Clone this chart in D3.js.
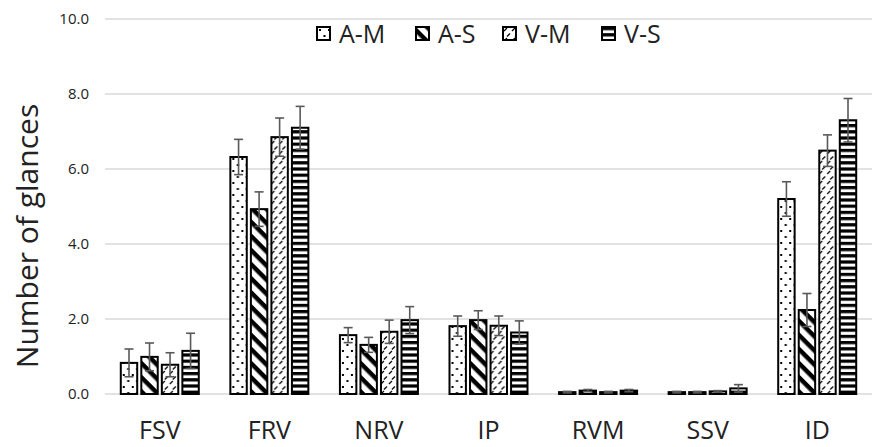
<!DOCTYPE html>
<html><head><meta charset="utf-8">
<script src="https://cdn.jsdelivr.net/npm/d3@7"></script>
<style>body{margin:0;background:#fff;} svg{display:block;font-family:"Open Sans",sans-serif;}</style>
</head><body>
<svg id="c" width="877" height="447"></svg>
<script>
const categories = ["FSV","FRV","NRV","IP","RVM","SSV","ID"];
const seriesNames = ["A-M","A-S","V-M","V-S"];
const valuesAM = [0.83,6.32,1.57,1.81,0.05,0.05,5.20];
const valuesAS = [0.99,4.93,1.31,1.97,0.09,0.05,2.24];
const valuesVM = [0.78,6.85,1.66,1.82,0.05,0.07,6.49];
const valuesVS = [1.15,7.10,1.97,1.64,0.09,0.15,7.30];
const errAM = [0.37,0.47,0.20,0.27,0.02,0.02,0.46];
const errAS = [0.37,0.46,0.20,0.25,0.03,0.02,0.44];
const errVM = [0.32,0.51,0.31,0.26,0.02,0.02,0.42];
const errVS = [0.47,0.57,0.36,0.31,0.03,0.10,0.58];
const yTicks = [0,2,4,6,8,10];

const values = [valuesAM,valuesAS,valuesVM,valuesVS];
const errs = [errAM,errAS,errVM,errVS];

const svg = d3.select("#c");
const defs = svg.append("defs");
// patterns
const p0 = defs.append("pattern").attr("id","pat0").attr("patternUnits","userSpaceOnUse").attr("width",9).attr("height",12);
p0.append("rect").attr("width",9).attr("height",12).attr("fill","#fff");
p0.append("rect").attr("x",2).attr("y",2).attr("width",2).attr("height",2).attr("fill","#000");
p0.append("rect").attr("x",6.5).attr("y",8).attr("width",2).attr("height",2).attr("fill","#000");
const p1 = defs.append("pattern").attr("id","pat1").attr("patternUnits","userSpaceOnUse").attr("width",10).attr("height",10).attr("patternTransform","rotate(45)");
p1.append("rect").attr("width",10).attr("height",10).attr("fill","#fff");
p1.append("rect").attr("x",0).attr("y",0).attr("width",10).attr("height",4.5).attr("fill","#000");
const p2 = defs.append("pattern").attr("id","pat2").attr("patternUnits","userSpaceOnUse").attr("width",8).attr("height",10);
p2.append("rect").attr("width",8).attr("height",10).attr("fill","#fff");
p2.append("line").attr("x1",1).attr("y1",4).attr("x2",4).attr("y2",1).attr("stroke","#000").attr("stroke-width",1.2);
p2.append("line").attr("x1",4).attr("y1",9.5).attr("x2",7).attr("y2",6.5).attr("stroke","#000").attr("stroke-width",1.2);
const p3 = defs.append("pattern").attr("id","pat3").attr("patternUnits","userSpaceOnUse").attr("width",6).attr("height",6.2);
p3.append("rect").attr("width",6).attr("height",6.2).attr("fill","#fff");
p3.append("rect").attr("x",0).attr("y",0).attr("width",6).attr("height",3.2).attr("fill","#000");

const mLeft = 105, mRight = 872, mTop = 19, mBottom = 394;
const x = d3.scaleBand().domain(categories).range([mLeft,mRight]).paddingInner(0).paddingOuter(0);
const xs = d3.scaleBand().domain(seriesNames).range([0,78]).paddingInner(0.2);
const y = d3.scaleLinear().domain([0,10]).range([mBottom,mTop]);

// gridlines
svg.append("g").selectAll("line").data(yTicks).join("line")
  .attr("x1",mLeft).attr("x2",mRight).attr("y1",d=>y(d)).attr("y2",d=>y(d))
  .attr("stroke","#d9d9d9").attr("stroke-width",1.5);

// y axis labels
const yAxis = d3.axisLeft(y).tickValues(yTicks).tickFormat(d3.format(".1f")).tickSize(0).tickPadding(0);
const ya = svg.append("g").attr("transform",`translate(${mLeft-16},0)`).call(yAxis);
ya.select(".domain").remove();
ya.selectAll("text").attr("font-size",15).attr("fill","#222").attr("font-family","Open Sans, sans-serif");

// x axis labels
const xAxis = d3.axisBottom(x).tickSize(0).tickPadding(0);
const xa = svg.append("g").attr("transform",`translate(0,${mBottom+45})`).call(xAxis);
xa.select(".domain").remove();
xa.selectAll("text").attr("font-size",25).attr("fill","#222").attr("font-family","Open Sans, sans-serif").attr("dy","0");

// bars
const groups = svg.append("g").selectAll("g").data(categories).join("g")
  .attr("transform",d=>`translate(${x(d)+x.bandwidth()/2-39},0)`);
seriesNames.forEach((s,si)=>{
  groups.append("rect")
    .attr("x",xs(s)).attr("width",xs.bandwidth())
    .attr("y",(d,i)=>y(values[si][i])).attr("height",(d,i)=>mBottom-y(values[si][i]))
    .attr("fill",`url(#pat${si})`).attr("stroke","#000").attr("stroke-width",2);
});
seriesNames.forEach((s,si)=>{
  const cx = xs(s)+xs.bandwidth()/2;
  const eg = groups.append("g").attr("stroke","#595959").attr("stroke-width",1.6);
  eg.append("line").attr("x1",cx).attr("x2",cx)
    .attr("y1",(d,i)=>y(values[si][i]+errs[si][i])).attr("y2",(d,i)=>y(values[si][i]-errs[si][i]));
  eg.append("line").attr("x1",cx-4.5).attr("x2",cx+4.5)
    .attr("y1",(d,i)=>y(values[si][i]+errs[si][i])).attr("y2",(d,i)=>y(values[si][i]+errs[si][i]));
  eg.append("line").attr("x1",cx-4.5).attr("x2",cx+4.5)
    .attr("y1",(d,i)=>y(values[si][i]-errs[si][i])).attr("y2",(d,i)=>y(values[si][i]-errs[si][i]));
});

// y title
svg.append("text").attr("transform","translate(38,236) rotate(-90)")
  .attr("text-anchor","middle").attr("font-size",30).attr("fill","#222").text("Number of glances");

// legend
const legX = [317,416,503,602];
const leg = svg.append("g").selectAll("g").data(seriesNames).join("g")
  .attr("transform",(d,i)=>`translate(${legX[i]},27)`);
leg.append("rect").attr("width",13).attr("height",13).attr("fill",(d,i)=>`url(#pat${i})`)
  .attr("stroke","#000").attr("stroke-width",2);
leg.append("text").attr("x",22).attr("y",16).attr("font-size",25).attr("fill","#222").text(d=>d);
</script>
</body></html>
